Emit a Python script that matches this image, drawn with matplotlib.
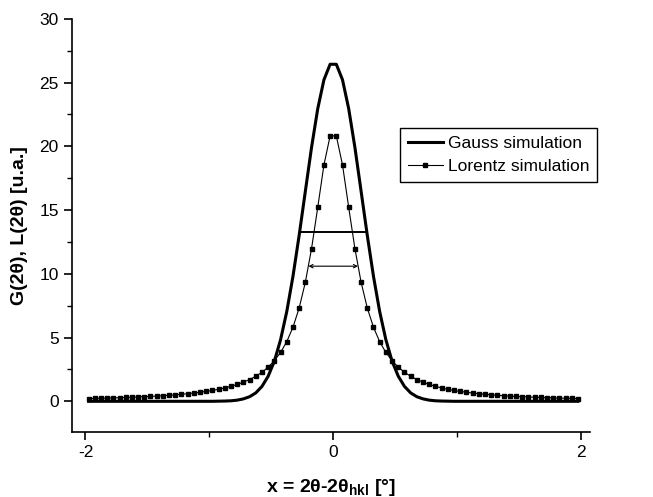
import matplotlib
matplotlib.use("Agg")
import matplotlib.pyplot as plt
from matplotlib.ticker import MultipleLocator

plt.rcParams["font.family"] = ["Liberation Sans", "DejaVu Sans"]
plt.rcParams["mathtext.fontset"] = "custom"
plt.rcParams["mathtext.rm"] = "Liberation Sans"
plt.rcParams["mathtext.bf"] = "Liberation Sans:bold"
plt.rcParams["axes.unicode_minus"] = False

# sample positions (deg), same grid for both simulations
x_deg = [
    -1.975, -1.925, -1.875, -1.825, -1.775, -1.725, -1.675, -1.625, -1.575, -1.525,
    -1.475, -1.425, -1.375, -1.325, -1.275, -1.225, -1.175, -1.125, -1.075, -1.025,
    -0.975, -0.925, -0.875, -0.825, -0.775, -0.725, -0.675, -0.625, -0.575, -0.525,
    -0.475, -0.425, -0.375, -0.325, -0.275, -0.225, -0.175, -0.125, -0.075, -0.025,
    0.025, 0.075, 0.125, 0.175, 0.225, 0.275, 0.325, 0.375, 0.425, 0.475,
    0.525, 0.575, 0.625, 0.675, 0.725, 0.775, 0.825, 0.875, 0.925, 0.975,
    1.025, 1.075, 1.125, 1.175, 1.225, 1.275, 1.325, 1.375, 1.425, 1.475,
    1.525, 1.575, 1.625, 1.675, 1.725, 1.775, 1.825, 1.875, 1.925, 1.975,
]

gauss = [
    0, 0, 0, 0, 0, 0, 0, 0, 0, 0,
    0, 0, 0, 0, 0, 0, 0, 0, 0, 0,
    0, 0.01, 0.02, 0.04, 0.09, 0.19, 0.36, 0.66, 1.17, 1.97,
    3.15, 4.83, 7.04, 9.80, 13.02, 16.48, 19.92, 22.95, 25.22, 26.44,
    26.44, 25.22, 22.95, 19.92, 16.48, 13.02, 9.80, 7.04, 4.83, 3.15,
    1.97, 1.17, 0.66, 0.36, 0.19, 0.09, 0.04, 0.02, 0.01, 0,
    0, 0, 0, 0, 0, 0, 0, 0, 0, 0,
    0, 0, 0, 0, 0, 0, 0, 0, 0, 0,
]

lorentz = [
    0.21, 0.23, 0.24, 0.25, 0.27, 0.28, 0.30, 0.32, 0.34, 0.36,
    0.38, 0.41, 0.44, 0.47, 0.51, 0.55, 0.60, 0.65, 0.71, 0.78,
    0.85, 0.94, 1.05, 1.17, 1.32, 1.50, 1.71, 1.96, 2.28, 2.68,
    3.19, 3.83, 4.68, 5.81, 7.32, 9.34, 11.98, 15.21, 18.54, 20.82,
    20.82, 18.54, 15.21, 11.98, 9.34, 7.32, 5.81, 4.68, 3.83, 3.19,
    2.68, 2.28, 1.96, 1.71, 1.50, 1.32, 1.17, 1.05, 0.94, 0.85,
    0.78, 0.71, 0.65, 0.60, 0.55, 0.51, 0.47, 0.44, 0.41, 0.38,
    0.36, 0.34, 0.32, 0.30, 0.28, 0.27, 0.25, 0.24, 0.23, 0.21,
]

# half maximum markers (height, half width)
gauss_half = (13.3, 0.27)
lorentz_half = (10.6, 0.2)

fig = plt.figure(figsize=(6.53, 4.97), dpi=100)
ax = fig.add_axes([0.110, 0.131, 0.793, 0.831])

ax.plot(x_deg, gauss, color="black", lw=2.2, label="Gauss simulation")
ax.plot(x_deg, lorentz, color="black", lw=0.8, marker="s", ms=3.4,
        label="Lorentz simulation")

ax.plot([-gauss_half[1], gauss_half[1]], [gauss_half[0]] * 2,
        color="black", lw=1.4)
ax.annotate("", xy=(-lorentz_half[1], lorentz_half[0]),
            xytext=(lorentz_half[1], lorentz_half[0]),
            arrowprops=dict(arrowstyle="<->", lw=0.8, color="black",
                            mutation_scale=6, shrinkA=0, shrinkB=0))

ax.set_xlim(-2.11, 2.07)
ax.set_ylim(-2.4, 30)
ax.xaxis.set_major_locator(MultipleLocator(2))
ax.xaxis.set_minor_locator(MultipleLocator(1))
ax.yaxis.set_major_locator(MultipleLocator(5))
ax.yaxis.set_minor_locator(MultipleLocator(2.5))
ax.spines["top"].set_visible(False)
ax.spines["right"].set_visible(False)
for s in ("left", "bottom"):
    ax.spines[s].set_linewidth(1.2)
ax.tick_params(which="major", direction="out", length=6, width=1.2,
               labelsize=12.5)
ax.tick_params(which="minor", direction="out", length=3.5, width=1.0)

ax.set_xlabel(r"x = 2θ-2θ$_\mathbf{hkl}$ [°]", fontsize=14,
              fontweight="bold", labelpad=12)
ax.set_ylabel("G(2θ), L(2θ) [u.a.]", fontsize=14, fontweight="bold",
              labelpad=8)

leg = ax.legend(loc="upper left", bbox_to_anchor=(0.613, 0.742),
                bbox_transform=fig.transFigure, borderaxespad=0,
                fontsize=12.5, fancybox=False, framealpha=1,
                edgecolor="black", handlelength=2.0, handletextpad=0.3,
                borderpad=0.45, labelspacing=0.45)
leg.get_frame().set_linewidth(1.0)

fig.savefig("out.png", dpi=100)
